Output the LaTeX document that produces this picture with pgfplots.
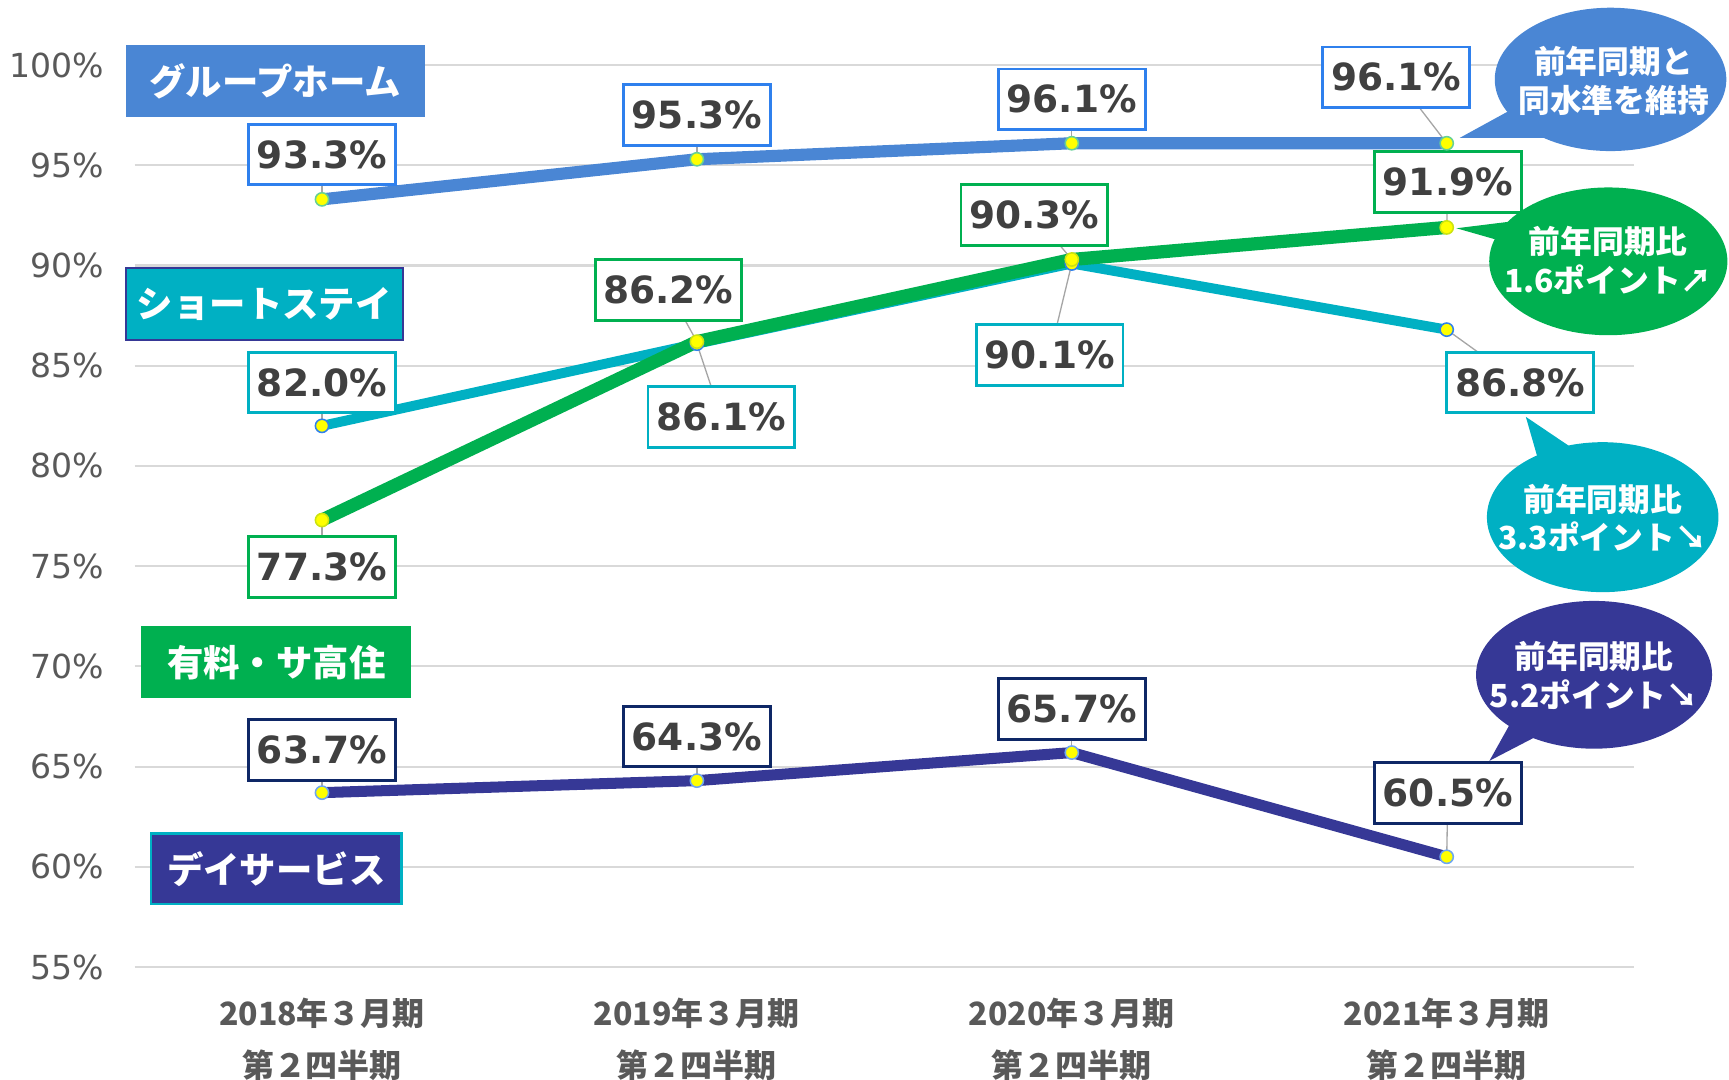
\documentclass[border=0pt]{standalone}
\usepackage{pgfplots}
\pgfplotsset{compat=1.18}
\usepackage{fontspec}
\setmainfont{DejaVu Sans}
\newfontfamily\jp{Noto Sans CJK JP}
\definecolor{gh}{HTML}{4A86D4}
\definecolor{ghb}{HTML}{2F80ED}
\definecolor{ss}{HTML}{00B0C3}
\definecolor{yr}{HTML}{00B050}
\definecolor{ds}{HTML}{363896}
\definecolor{dsb}{HTML}{0E2766}
\definecolor{txt}{HTML}{404040}
\definecolor{tickc}{HTML}{595959}
\definecolor{grd}{HTML}{D9D9D9}
\definecolor{ldr}{HTML}{A6A6A6}
\definecolor{mky}{HTML}{FFFF00}
\tikzset{
 dl/.style={draw=#1, fill=white, line width=1.3pt, minimum width=66.5pt, minimum height=27.5pt, inner sep=0pt, text=txt, font=\bfseries\fontsize{17}{17}\selectfont},
 cat/.style={fill=#1, text=white, font=\jp\bfseries\fontsize{16.5}{16.5}\selectfont, inner sep=0pt, minimum height=32.5pt},
 co/.style={text=white, align=center, font=\jp\bfseries\fontsize{14.4}{17.5}\selectfont},
 ld/.style={draw=ldr, line width=0.6pt}
}
\begin{document}
\begin{tikzpicture}
\begin{axis}[
 at={(0,0)}, anchor=south west,
 scale only axis, width=680pt, height=409pt,
 xmin=-0.5, xmax=3.5, ymin=55, ymax=100,
 xtick={0,1,2,3},
 xticklabels={{2018年３月期\\第２四半期},{2019年３月期\\第２四半期},{2020年３月期\\第２四半期},{2021年３月期\\第２四半期}},
 xticklabel style={font=\jp\bfseries\fontsize{14.5}{23.5}\selectfont, align=center, text=tickc, yshift=-10.5pt},
 ytick={55,60,...,100},
 yticklabel={\pgfmathprintnumber{\tick}\%},
 yticklabel style={font=\fontsize{15}{16}\selectfont, text=tickc, xshift=-10.5pt},
 /pgf/number format/assume math mode=true,
 clip=false,
 axis line style={draw=none},
 major tick length=0pt,
 ymajorgrids, grid style={grd, line width=1pt},
]
% leader lines
\draw[ld] (axis cs:3,96.1) -- (axis cs:2.865,99.39);
\draw[ld] (axis cs:2,90.3) -- (axis cs:1.900,92.52);
\draw[ld] (axis cs:1,86.2) -- (axis cs:0.924,88.78);
\draw[ld] (axis cs:0,77.3) -- (axis cs:0,74.97);
\draw[ld] (axis cs:0,93.3) -- (axis cs:0,95.54);
\draw[ld] (axis cs:1,95.3) -- (axis cs:1,97.52);
\draw[ld] (axis cs:2,96.1) -- (axis cs:2,98.29);
\draw[ld] (axis cs:3,91.9) -- (axis cs:3.003,94.17);
\draw[ld] (axis cs:0,82.0) -- (axis cs:0,84.16);
\draw[ld] (axis cs:1,86.1) -- (axis cs:1.065,82.45);
\draw[ld] (axis cs:2,90.1) -- (axis cs:1.941,85.53);
\draw[ld] (axis cs:3,86.8) -- (axis cs:3.196,84.16);
\draw[ld] (axis cs:0,63.7) -- (axis cs:0,65.84);
\draw[ld] (axis cs:1,64.3) -- (axis cs:1,66.5);
\draw[ld] (axis cs:2,65.7) -- (axis cs:2,67.87);
\draw[ld] (axis cs:3,60.5) -- (axis cs:3.003,63.69);
% series
\addplot[ss, line width=4.5pt, mark=*, mark size=3pt, mark options={fill=mky, draw=ghb, line width=0.7pt}] coordinates {(0,82.0) (1,86.1) (2,90.1) (3,86.8)};
\addplot[ds, line width=5pt, mark=*, mark size=3pt, mark options={fill=mky, draw=ghb!70, line width=0.7pt}] coordinates {(0,63.7) (1,64.3) (2,65.7) (3,60.5)};
\addplot[gh, line width=5.5pt, mark=*, mark size=3pt, mark options={fill=mky, draw=yr!60, line width=0.7pt}] coordinates {(0,93.3) (1,95.3) (2,96.1) (3,96.1)};
\addplot[yr, line width=6pt, mark=*, mark size=3pt, mark options={fill=mky, draw=yellow!80!green, line width=0.7pt}] coordinates {(0,77.3) (1,86.2) (2,90.3) (3,91.9)};
% data labels
\node[dl=ghb] at (axis cs:0,95.54) {93.3\%};
\node[dl=ghb] at (axis cs:1,97.52) {95.3\%};
\node[dl=ghb] at (axis cs:2,98.29) {96.1\%};
\node[dl=ghb] at (axis cs:2.865,99.39) {96.1\%};
\node[dl=yr] at (axis cs:3.003,94.17) {91.9\%};
\node[dl=yr] at (axis cs:1.900,92.52) {90.3\%};
\node[dl=yr] at (axis cs:0.924,88.78) {86.2\%};
\node[dl=yr] at (axis cs:0,74.97) {77.3\%};
\node[dl=ss] at (axis cs:0,84.16) {82.0\%};
\node[dl=ss] at (axis cs:1.065,82.45) {86.1\%};
\node[dl=ss] at (axis cs:1.941,85.53) {90.1\%};
\node[dl=ss] at (axis cs:3.196,84.16) {86.8\%};
\node[dl=dsb] at (axis cs:0,65.84) {63.7\%};
\node[dl=dsb] at (axis cs:1,66.5) {64.3\%};
\node[dl=dsb] at (axis cs:2,67.87) {65.7\%};
\node[dl=dsb] at (axis cs:3.003,63.69) {60.5\%};
% category labels
\node[cat=gh, minimum width=135.5pt] at (axis cs:-0.125,99.20) {グループホーム};
\node[cat=ss, draw=ds, line width=1pt, minimum width=125.5pt] at (axis cs:-0.154,88.09) {ショートステイ};
\node[cat=yr, minimum width=122.5pt] at (axis cs:-0.122,70.21) {有料・サ高住};
\node[cat=ds, draw=ss, line width=1pt, minimum width=113.5pt, minimum height=32pt] at (axis cs:-0.122,59.90) {デイサービス};
% callouts
\fill[gh] (axis cs:3.437,99.285) ellipse [x radius=52.5pt, y radius=32.5pt];
\fill[gh] (axis cs:3.035,96.37) -- (axis cs:3.196,98.02) -- (axis cs:3.284,96.37) -- cycle;
\node[co] at (axis cs:3.445,99.2) {前年同期と\\同水準を維持};
\fill[yr] (axis cs:3.431,90.208) ellipse [x radius=54pt, y radius=33.5pt];
\fill[yr] (axis cs:3.026,91.858) -- (axis cs:3.240,92.353) -- (axis cs:3.211,90.868) -- cycle;
\node[co] at (axis cs:3.431,90.25) {前年同期比\\1.6ポイント↗};
\fill[ss] (axis cs:3.416,77.445) ellipse [x radius=52.5pt, y radius=34pt];
\fill[ss] (axis cs:3.211,82.451) -- (axis cs:3.255,79.59) -- (axis cs:3.372,80.42) -- cycle;
\node[co] at (axis cs:3.416,77.4) {前年同期比\\3.3ポイント↘};
\fill[ds] (axis cs:3.393,69.58) ellipse [x radius=53.5pt, y radius=33.5pt];
\fill[ds] (axis cs:3.114,65.29) -- (axis cs:3.196,68.04) -- (axis cs:3.284,66.94) -- cycle;
\node[co] at (axis cs:3.393,69.55) {前年同期比\\5.2ポイント↘};
\end{axis}
\pgfresetboundingbox
\useasboundingbox (-61pt,-51pt) rectangle (723pt,438.5pt);
\end{tikzpicture}
\end{document}
